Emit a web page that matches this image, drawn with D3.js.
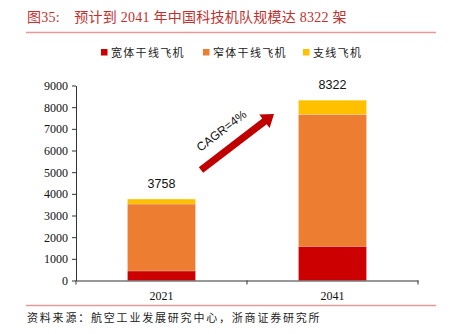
<!DOCTYPE html>
<html><head><meta charset="utf-8">
<script src="https://cdn.jsdelivr.net/npm/d3@7"></script>
<style>
html,body{margin:0;padding:0;background:#fff;}
svg{display:block;}
</style></head>
<body>
<svg id="c" width="450" height="334"></svg>
<script>
const categories = ["2021", "2041"];
const seriesNames = ["宽体干线飞机", "窄体干线飞机", "支线飞机"];
const wideBody = [440, 1580];
const narrowBody = [3090, 6090];
const regional = [228, 652];
const totals = [3758, 8322];
const yTicks = [0, 1000, 2000, 3000, 4000, 5000, 6000, 7000, 8000, 9000];
const colors = ["#CC0000", "#ED7D31", "#FFC000"];
const titleText = "图35:　预计到 2041 年中国科技机队规模达 8322 架";
const sourceText = "资料来源：航空工业发展研究中心，浙商证券研究所";
const cagrText = "CAGR=4%";

const svg = d3.select("#c");
const serif = "'Liberation Serif','DejaVu Serif','Noto Sans CJK SC',serif";
const cjk = "'Noto Sans CJK SC',sans-serif";

// Title
svg.append("text").attr("x", 27).attr("y", 22).attr("fill", "#C0302F")
  .style("font-family", "'Liberation Serif','Noto Sans CJK SC',serif").style("font-size", "14px")
  .style("letter-spacing", "0.25px")
  .text(titleText);
svg.append("line").attr("x1", 26).attr("x2", 436).attr("y1", 32.5).attr("y2", 32.5)
  .attr("stroke", "#E39A9A").attr("stroke-width", 1.5);

// Legend
const legendX = [101, 203, 303];
const lg = svg.append("g");
seriesNames.forEach((n, i) => {
  lg.append("rect").attr("x", legendX[i]).attr("y", 49).attr("width", 6.5).attr("height", 6.5).attr("fill", colors[i]);
  lg.append("text").attr("x", legendX[i] + 10).attr("y", 56.5).attr("fill", "#222")
    .style("font-family", cjk).style("font-size", "11px").style("letter-spacing", "1.3px").text(n);
});

// Scales
const x = d3.scaleBand().domain(categories).range([76, 418]).paddingInner(0).paddingOuter(0);
const y = d3.scaleLinear().domain([0, 9000]).range([280.5, 85.5]);
const barW = 68;

const data = categories.map((c, i) => ({cat: c, wide: wideBody[i], narrow: narrowBody[i], reg: regional[i]}));
const stack = d3.stack().keys(["wide", "narrow", "reg"])(data);

stack.forEach((layer, li) => {
  svg.append("g").selectAll("rect").data(layer).join("rect")
    .attr("x", d => x(d.data.cat) + x.bandwidth() / 2 - barW / 2)
    .attr("width", barW)
    .attr("y", d => y(d[1]))
    .attr("height", d => y(d[0]) - y(d[1]))
    .attr("fill", colors[li])
    .attr("stroke", "rgba(255,255,255,0.35)").attr("stroke-width", 0.6);
});

// Totals
svg.append("g").selectAll("text").data(categories).join("text")
  .attr("x", d => x(d) + x.bandwidth() / 2)
  .attr("y", (d, i) => y(totals[i]) - 11)
  .attr("text-anchor", "middle").attr("fill", "#111")
  .style("font-family", "'Liberation Sans',Arial,sans-serif").style("font-size", "12.5px")
  .text((d, i) => totals[i]);

// Y axis
const yAxis = svg.append("g").attr("transform", "translate(76,0)")
  .call(d3.axisLeft(y).tickValues(yTicks).tickSize(4).tickSizeOuter(0).tickFormat(d3.format("d")));
yAxis.select(".domain").attr("stroke", "#333");
yAxis.selectAll(".tick line").attr("stroke", "#333");
yAxis.selectAll("text").attr("fill", "#111").style("font-family", serif).style("font-size", "12px").attr("x", -8);

// X axis
const xAxis = svg.append("g").attr("transform", "translate(0,280.5)")
  .call(d3.axisBottom(x).tickSize(0).tickSizeOuter(0));
xAxis.select(".domain").attr("stroke", "#333").attr("stroke-width", 1.2);
xAxis.selectAll("text").attr("fill", "#111").style("font-family", serif).style("font-size", "12px").attr("dy", "1.4em");
// boundary ticks
const bounds = [x.range()[0], x("2041"), x.range()[1]];
svg.append("g").selectAll("line").data(bounds).join("line")
  .attr("x1", d => d).attr("x2", d => d).attr("y1", 280.5).attr("y2", 284.5).attr("stroke", "#333");

// CAGR arrow
const x0 = 201, y0 = 170, x1 = 274, y1 = 114;
const ang = Math.atan2(y1 - y0, x1 - x0);
const len = Math.hypot(x1 - x0, y1 - y0);
const ag = svg.append("g").attr("transform", `translate(${x0},${y0}) rotate(${ang * 180 / Math.PI})`);
const sw = 3.6, hl = 12, hw = 8.5;
ag.append("path").attr("fill", "#C00000")
  .attr("d", `M0,${-sw} L${len - hl},${-sw} L${len - hl},${-hw} L${len},0 L${len - hl},${hw} L${len - hl},${sw} L0,${sw} Z`);
svg.append("text").attr("transform", `translate(224,134) rotate(${ang * 180 / Math.PI})`)
  .attr("text-anchor", "middle").attr("fill", "#111")
  .style("font-family", "'Liberation Sans',Arial,sans-serif").style("font-size", "12px")
  .text(cagrText);

// Bottom line & source
svg.append("line").attr("x1", 26).attr("x2", 436).attr("y1", 305.5).attr("y2", 305.5)
  .attr("stroke", "#E39A9A").attr("stroke-width", 1.5);
svg.append("text").attr("x", 27).attr("y", 322).attr("fill", "#222")
  .style("font-family", cjk).style("font-size", "11px").style("letter-spacing", "1.8px").text(sourceText);
</script>
</body></html>
